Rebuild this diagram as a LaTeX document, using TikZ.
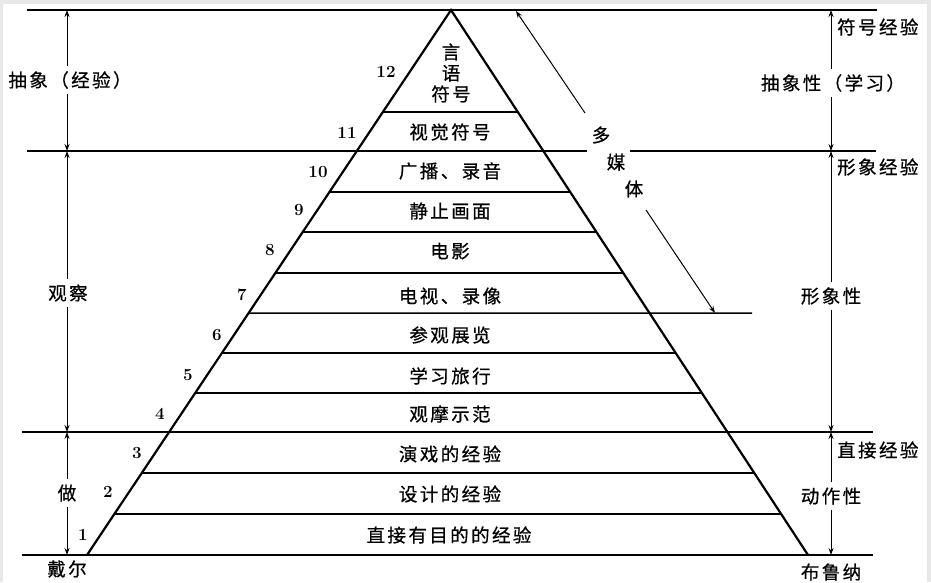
\documentclass[tikz,border=0pt]{standalone}
\usepackage{fontspec}
\newfontfamily\cjk[LetterSpace=13,FakeBold=0.6]{Noto Sans CJK SC}
\usetikzlibrary{arrows.meta,calc}
\begin{document}
\begin{tikzpicture}[x=1pt,y=-1pt,
  lab/.style={font=\cjk\fontsize{18.5}{21}\selectfont, inner sep=1pt},
  num/.style={font=\bfseries\fontsize{17}{17}\selectfont, inner sep=0pt},
  edgeline/.style={line width=2.2pt},
  lvl/.style={line width=1.5pt},
  rule/.style={line width=1.1pt},
  arr/.style={line width=1pt, shorten <=4pt, -{Stealth[length=7pt,width=5pt]}},
]
\fill[gray!18] (0,0) rectangle (931,582);
\fill[white] (3,4) rectangle (927,582);
\useasboundingbox (0,0) rectangle (931,582);

\coordinate (apex) at (451,10);
\coordinate (bl) at (87,555);
\coordinate (br) at (808,555);

% full-width rules
\coordinate (t0) at (27,10);  \coordinate (t1) at (877,10);
\coordinate (m0) at (27,151); \coordinate (m1) at (587,151);
\coordinate (m2) at (630,151); \coordinate (m3) at (876,151);
\coordinate (d0) at (22,432); \coordinate (d1) at (873,432);
\coordinate (b0) at (22,555); \coordinate (b1) at (873,555);
\draw[rule] (t0) -- (t1);
\draw[rule] (m0) -- (m1);
\draw[rule] (m2) -- (m3);
\draw[rule] (d0) -- (d1);
\draw[lvl] (b0) -- (b1);

% level lines
\foreach \y in {514,473,432,393,353,273,232,192,151,112} {
  \pgfmathsetmacro\t{(\y-10)/545}
  \draw[lvl] ($(apex)!\t!(bl)$) -- ($(apex)!\t!(br)$);
}
\coordinate (tv) at (752,313);
\pgfmathsetmacro\tt{(313-10)/545}
\draw[lvl] ($(apex)!\tt!(bl)$) -- (tv);

% pyramid edges
\draw[edgeline] (bl) -- (apex) -- (br);

% level texts
\node[lab, align=center] (l12) at (451,73) {言\\语\\符号};
\node[lab] (l11) at (450,132) {视觉符号};
\node[lab] (l10) at (450,171) {广播、录音};
\node[lab] (l9)  at (450,211) {静止画面};
\node[lab] (l8)  at (450,251) {电影};
\node[lab] (l7)  at (450,296) {电视、录像};
\node[lab] (l6)  at (450,335) {参观展览};
\node[lab] (l5)  at (450,376) {学习旅行};
\node[lab] (l4)  at (450,414) {观摩示范};
\node[lab] (l3)  at (450,454) {演戏的经验};
\node[lab] (l2)  at (450,494) {设计的经验};
\node[lab] (l1)  at (449,535) {直接有目的的经验};

% numbers
\node[num] (n12) at (386,72) {12};
\node[num] (n11) at (347,133) {11};
\node[num] (n10) at (318,172) {10};
\node[num] (n9)  at (299,210) {9};
\node[num] (n8)  at (270,250) {8};
\node[num] (n7)  at (242,295) {7};
\node[num] (n6)  at (217,335) {6};
\node[num] (n5)  at (188,375) {5};
\node[num] (n4)  at (160,414) {4};
\node[num] (n3)  at (137,453) {3};
\node[num] (n2)  at (108,492) {2};
\node[num] (n1)  at (83,535)  {1};

% multimedia
\node[lab] (duo) at (601,135) {多};
\node[lab] (mei) at (616,162) {媒};
\node[lab] (ti)  at (634,189) {体};
\coordinate (mu1) at (585,113); \coordinate (mu2) at (516,11);
\coordinate (mu3) at (646,210); \coordinate (mu4) at (715,313);
\draw[arr, shorten <=0pt] (mu1) -- (mu2);
\draw[arr, shorten <=0pt] (mu3) -- (mu4);

% left scale
\coordinate (L0) at (67,10);  \coordinate (L1) at (67,151);
\coordinate (L2) at (67,432); \coordinate (L3) at (67,555);
\node[lab] (abs) at (70,80) {抽象（经验）};
\node[lab] (obs) at (68,293) {观察};
\node[lab] (do)  at (67,493) {做};
\node[lab] (dale) at (67,569) {戴尔};
\draw[arr] (abs.north -| L0) -- (L0);
\draw[arr] (abs.south -| L0) -- (L1);
\draw[arr] (obs.north -| L0) -- (L1);
\draw[arr] (obs.south -| L0) -- (L2);
\draw[arr] (do.north -| L0) -- (L2);
\draw[arr] (do.south -| L0) -- (L3);

% right scale
\coordinate (R0) at (831,10);  \coordinate (R1) at (831,151);
\coordinate (R2) at (831,432); \coordinate (R3) at (831,555);
\node[lab] (absl) at (833,83) {抽象性（学习）};
\node[lab] (img)  at (831,296) {形象性};
\node[lab] (act)  at (831,496) {动作性};
\node[lab] (bru)  at (831,572) {布鲁纳};
\node[lab, anchor=west] (sym) at (836,27)  {符号经验};
\node[lab, anchor=west] (ime) at (836,167) {形象经验};
\node[lab, anchor=west] (dir) at (836,450) {直接经验};
\draw[arr] (absl.north -| R0) -- (R0);
\draw[arr] (absl.south -| R0) -- (R1);
\draw[arr] (img.north -| R0) -- (R1);
\draw[arr] (img.south -| R0) -- (R2);
\draw[arr] (act.north -| R0) -- (R2);
\draw[arr] (act.south -| R0) -- (R3);
\end{tikzpicture}
\end{document}
